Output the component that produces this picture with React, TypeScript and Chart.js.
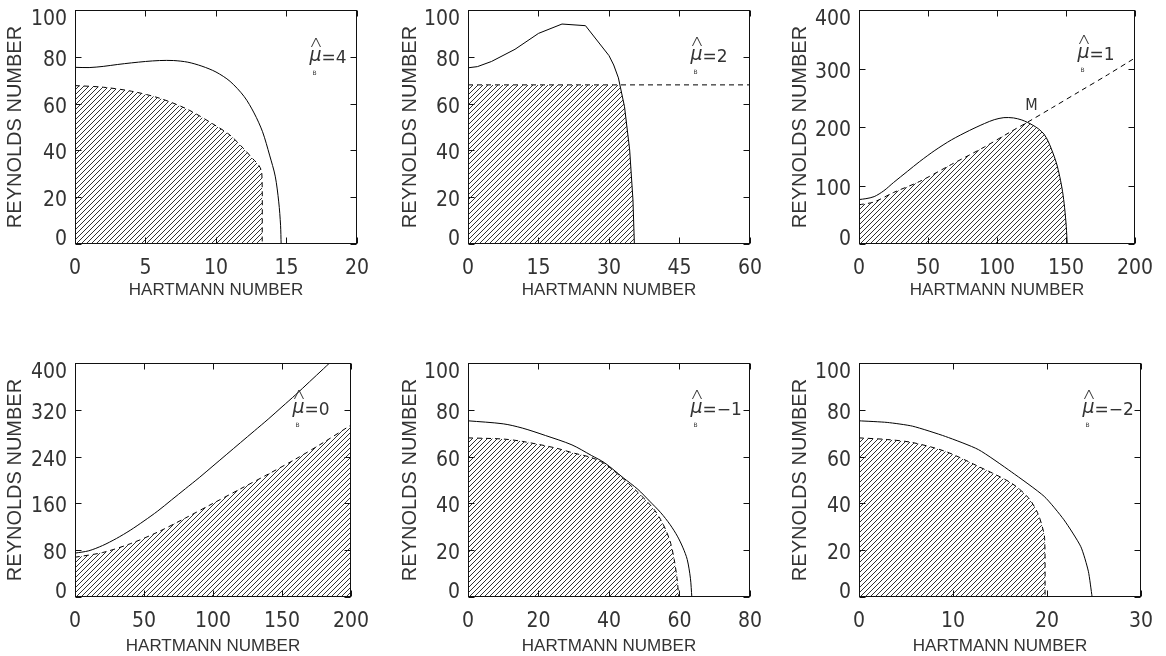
import React, { useEffect, useRef } from "react";
import { Chart, registerables } from "chart.js";

Chart.register(...registerables);

type Pt = [number, number];

// ---------- tick values ----------
const X_TICKS_MU4 = [0, 5, 10, 15, 20];
const X_TICKS_MU2 = [0, 15, 30, 45, 60];
const X_TICKS_MU1 = [0, 50, 100, 150, 200];
const X_TICKS_MU0 = [0, 50, 100, 150, 200];
const X_TICKS_MUM1 = [0, 20, 40, 60, 80];
const X_TICKS_MUM2 = [0, 10, 20, 30];
const Y_TICKS_100 = [0, 20, 40, 60, 80, 100];
const Y_TICKS_MU1 = [0, 100, 200, 300, 400];
const Y_TICKS_MU0 = [0, 80, 160, 240, 320, 400];

// ---------- texts ----------
const X_TITLE = "HARTMANN NUMBER";
const Y_TITLE = "REYNOLDS NUMBER";
const MU_LABELS = ["=4", "=2", "=1", "=0", "=\u22121", "=\u22122"];
const MARK_LABEL = "M";
const MARK_POS: Pt = [125, 236];

// ---------- series (Hartmann number, Reynolds number) ----------
const MU4_SOLID: Pt[] = [
  [0, 75.5], [1, 75.4], [2, 75.9], [3, 76.7], [4, 77.4], [5, 78], [6, 78.4], [7, 78.4],
  [8, 77.7], [9, 76], [10, 73.5], [11, 69.5], [12, 63], [12.7, 56], [13.3, 48], [13.8, 38],
  [14.2, 29], [14.45, 18], [14.58, 8], [14.62, 0],
];
const MU4_DASHED: Pt[] = [
  [0, 67.7], [2, 67], [4, 65.3], [6, 62.3], [8, 57.5], [10, 50.5], [11, 46.5], [12, 40.5],
  [12.6, 36.5], [13.05, 33.5], [13.25, 30.5], [13.28, 0],
];

const MU2_SOLID: Pt[] = [
  [0, 75.3], [2, 75.8], [5, 78], [10, 83.2], [15, 90], [20, 94], [25, 93.3], [30, 80.5],
  [31, 76.5], [32, 71], [33.3, 58.7], [34.4, 40.2], [35.1, 18.8], [35.4, 0],
];
const MU2_DASHED: Pt[] = [[0, 68], [60, 68]];
const MU2_HATCH: Pt[] = [
  [0, 68], [32.32, 68], [33.3, 58.7], [34.4, 40.2], [35.1, 18.8], [35.4, 0],
];

const MU1_SOLID: Pt[] = [
  [0, 76], [5, 77.5], [11, 81], [18, 91], [25, 105], [35, 124], [44, 141], [55, 160],
  [67, 178], [80, 194], [91, 206], [98, 212.5], [105, 216], [112, 215.5], [118, 212],
  [122, 208], [126, 203], [130, 197], [134, 188], [137, 176], [140, 159], [143, 139],
  [145.5, 115], [147.5, 90], [149, 62], [150.2, 30], [150.9, 0],
];
const MU1_DASHED: Pt[] = [
  [0, 67], [11, 72], [25, 88], [44, 107], [67, 136], [91, 166], [110, 192], [122, 208],
  [140, 233], [160, 261], [180, 289], [200, 318],
];
const MU1_HATCH: Pt[] = [
  [0, 67], [11, 72], [25, 88], [44, 107], [67, 136], [91, 166], [110, 192], [122, 208],
  [126, 203], [130, 197], [134, 188], [137, 176], [140, 159], [143, 139], [145.5, 115],
  [147.5, 90], [149, 62], [150.2, 30], [150.9, 0],
];

const MU0_SOLID: Pt[] = [
  [0, 75], [10, 79], [20, 88], [30, 100], [40, 114], [50, 130], [60, 147], [70, 166],
  [80, 185], [90, 204], [100, 224], [110, 244], [120, 264], [130, 284], [140, 304],
  [150, 325], [160, 346], [170, 368], [180, 390], [184.5, 400],
];
const MU0_DASHED: Pt[] = [
  [0, 68], [20, 76], [40, 91], [60, 111], [80, 135], [100, 160], [120, 185], [140, 210],
  [160, 236], [180, 264], [200, 294],
];

const MUM1_SOLID: Pt[] = [
  [0, 75.3], [10, 74], [15.4, 72.2], [22, 69], [29.5, 65], [35, 60.5], [38.8, 57.3],
  [44, 51], [48.2, 46], [51.5, 41], [54.7, 36], [57.3, 31], [59.4, 26], [61, 21],
  [62.2, 16], [63.1, 8], [63.5, 0],
];
const MUM1_DASHED: Pt[] = [
  [0, 68], [10, 67.5], [15.4, 66.5], [24.8, 63.7], [30, 61.5], [35, 59.6], [38.8, 56.9],
  [44, 50.6], [48, 45], [51, 40.5], [53, 37], [54.7, 33], [56.3, 28], [57.5, 23],
  [58.5, 16], [59.3, 8], [59.8, 0],
];

const MUM2_SOLID: Pt[] = [
  [0, 75.3], [3, 74.6], [5.7, 73], [9.2, 68.6], [12.7, 63], [16.2, 53.5], [19.7, 43],
  [21.8, 33], [23.6, 21.5], [24.4, 11], [24.8, 0],
];
const MUM2_DASHED: Pt[] = [
  [0, 68], [3, 67.3], [5.7, 66], [9.2, 62.2], [12.7, 55.8], [16.2, 48.7], [18, 42.5],
  [19, 36], [19.5, 30], [19.75, 25], [19.8, 0],
];

// ---------- styling ----------
const TICK_FONT = "'Liberation Sans Narrow', 'DejaVu Sans Condensed', 'Liberation Sans', sans-serif";
const TITLE_FONT = "'Liberation Sans', Arial, sans-serif";
const LABEL_FONT = "'DejaVu Sans', sans-serif";
const TEXT = "#333";
const AREA_W = 284;
const AREA_H = 234;
const PAD_L = 75;
const PAD_T = 10;
const PAD_R = 22;
const PAD_B = 58;
const CW = PAD_L + AREA_W + PAD_R;
const CH = PAD_T + AREA_H + PAD_B;

interface PanelCfg {
  left: number;
  top: number;
  xMin: number;
  xMax: number;
  yMax: number;
  xTicks: number[];
  yTicks: number[];
  solid: Pt[];
  dashed: Pt[];
  hatch: Pt[];
  solidTension: number;
  dashedTension: number;
  hatchTension: number;
  mu: string;
  muDx: number;
  muDy: number;
  yTitlePad: number;
  xTitlePad: number;
  mark?: boolean;
}

const PANELS: PanelCfg[] = [
  {
    left: 75, top: 10, xMin: 0, xMax: 20, yMax: 100, xTicks: X_TICKS_MU4, yTicks: Y_TICKS_100,
    solid: MU4_SOLID, dashed: MU4_DASHED, hatch: MU4_DASHED, solidTension: 0.3, dashedTension: 0.3,
    hatchTension: 0.3, mu: MU_LABELS[0], muDx: -46, muDy: 53, yTitlePad: 5, xTitlePad: 3.5,
  },
  {
    left: 468, top: 10, xMin: 0, xMax: 60, yMax: 100, xTicks: X_TICKS_MU2, yTicks: Y_TICKS_100,
    solid: MU2_SOLID, dashed: MU2_DASHED, hatch: MU2_HATCH, solidTension: 0, dashedTension: 0,
    hatchTension: 0, mu: MU_LABELS[1], muDx: -58, muDy: 52, yTitlePad: 7, xTitlePad: 3.5,
  },
  {
    left: 859, top: 10, xMin: 0, xMax: 200, yMax: 400, xTicks: X_TICKS_MU1, yTicks: Y_TICKS_MU1,
    solid: MU1_SOLID, dashed: MU1_DASHED, hatch: MU1_HATCH, solidTension: 0.3, dashedTension: 0.3,
    hatchTension: 0.3, mu: MU_LABELS[2], muDx: -56, muDy: 50, yTitlePad: 6, xTitlePad: 3.5, mark: true,
  },
  {
    left: 75, top: 363, xMin: 0, xMax: 200, yMax: 400, xTicks: X_TICKS_MU0, yTicks: Y_TICKS_MU0,
    solid: MU0_SOLID, dashed: MU0_DASHED, hatch: MU0_DASHED, solidTension: 0.3, dashedTension: 0.3,
    hatchTension: 0.3, mu: MU_LABELS[3], muDx: -57, muDy: 52, yTitlePad: 5, xTitlePad: 0,
  },
  {
    left: 468, top: 363, xMin: 0, xMax: 80, yMax: 100, xTicks: X_TICKS_MUM1, yTicks: Y_TICKS_100,
    solid: MUM1_SOLID, dashed: MUM1_DASHED, hatch: MUM1_DASHED, solidTension: 0.3, dashedTension: 0.3,
    hatchTension: 0.3, mu: MU_LABELS[4], muDx: -58, muDy: 52, yTitlePad: 7, xTitlePad: 0,
  },
  {
    left: 859, top: 363, xMin: 0, xMax: 30, yMax: 100, xTicks: X_TICKS_MUM2, yTicks: Y_TICKS_100,
    solid: MUM2_SOLID, dashed: MUM2_DASHED, hatch: MUM2_DASHED, solidTension: 0.2, dashedTension: 0.3,
    hatchTension: 0.3, mu: MU_LABELS[5], muDx: -57, muDy: 52, yTitlePad: 6, xTitlePad: 0,
  },
];

function makeHatch(): CanvasPattern | string {
  const c = document.createElement("canvas");
  const s = 5;
  c.width = s;
  c.height = s;
  const g = c.getContext("2d");
  if (!g) return "rgba(0,0,0,0.3)";
  g.strokeStyle = "#1a1a1a";
  g.lineWidth = 0.9;
  g.beginPath();
  g.moveTo(0, s);
  g.lineTo(s, 0);
  g.moveTo(-1, 1);
  g.lineTo(1, -1);
  g.moveTo(s - 1, s + 1);
  g.lineTo(s + 1, s - 1);
  g.stroke();
  return g.createPattern(c, "repeat") || "rgba(0,0,0,0.3)";
}

function framePlugin(cfg: PanelCfg) {
  return {
    id: "frameAndLabels",
    afterDraw(chart: any) {
      const { ctx, chartArea: a, scales } = chart;
      const xs = scales.x;
      const ys = scales.y;
      ctx.save();
      const L = Math.round(a.left) + 0.5;
      const R = Math.round(a.right) - 0.5;
      const T = Math.round(a.top) + 0.5;
      const B = Math.round(a.bottom) - 0.5;
      ctx.strokeStyle = "#111";
      ctx.lineWidth = 1;
      ctx.setLineDash([]);
      ctx.strokeRect(L, T, R - L, B - T);
      ctx.beginPath();
      const TL = 6;
      for (const v of cfg.xTicks) {
        const px = Math.round(xs.getPixelForValue(v)) + 0.5;
        ctx.moveTo(px, B);
        ctx.lineTo(px, B - TL);
        ctx.moveTo(px, T);
        ctx.lineTo(px, T + TL);
      }
      for (const v of cfg.yTicks) {
        const py = Math.round(ys.getPixelForValue(v)) + 0.5;
        ctx.moveTo(L, py);
        ctx.lineTo(L + TL, py);
        ctx.moveTo(R, py);
        ctx.lineTo(R - TL, py);
      }
      ctx.stroke();

      // y tick labels
      ctx.fillStyle = TEXT;
      ctx.font = `21px ${TICK_FONT}`;
      ctx.textAlign = "right";
      ctx.textBaseline = "alphabetic";
      for (const v of cfg.yTicks) {
        const py = ys.getPixelForValue(v);
        const c = Math.min(Math.max(py + 1.5, a.top + 7.5), a.bottom - 6.5);
        ctx.fillText(String(v), a.left - 8, c + 7.5);
      }

      // mu label: hat, mu, subscript B, "=value"
      const mx = a.right + cfg.muDx;
      const base = a.top + cfg.muDy;
      ctx.textAlign = "left";
      ctx.font = `italic 19px ${LABEL_FONT}`;
      ctx.fillText("\u03bc", mx - 1.5, base - 2);
      ctx.beginPath();
      ctx.lineWidth = 1;
      ctx.strokeStyle = TEXT;
      ctx.moveTo(mx + 0.5, base - 16);
      ctx.lineTo(mx + 5, base - 25);
      ctx.lineTo(mx + 9.5, base - 16);
      ctx.stroke();
      ctx.textAlign = "center";
      ctx.font = `6px ${LABEL_FONT}`;
      ctx.fillText("B", mx + 3.5, base + 12);
      ctx.textAlign = "left";
      ctx.font = `17px ${LABEL_FONT}`;
      ctx.fillText(cfg.mu, mx + 10.5, base);

      if (cfg.mark) {
        ctx.font = `16px ${TICK_FONT}`;
        ctx.textAlign = "center";
        ctx.textBaseline = "middle";
        ctx.fillText(MARK_LABEL, xs.getPixelForValue(MARK_POS[0]), ys.getPixelForValue(MARK_POS[1]));
      }
      ctx.restore();
    },
  };
}

function PanelChart({ cfg }: { cfg: PanelCfg }) {
  const ref = useRef<HTMLCanvasElement | null>(null);
  useEffect(() => {
    const canvas = ref.current;
    if (!canvas) return;
    const hatch = makeHatch();
    const toXY = (arr: Pt[]) => arr.map(([x, y]) => ({ x, y }));
    const chart = new Chart(canvas, {
      type: "line",
      data: {
        datasets: [
          {
            data: toXY(cfg.hatch),
            borderWidth: 0,
            borderColor: "rgba(0,0,0,0)",
            backgroundColor: hatch as any,
            fill: "origin",
            pointRadius: 0,
            tension: cfg.hatchTension,
          },
          {
            data: toXY(cfg.dashed),
            borderColor: "#000",
            borderWidth: 1,
            borderDash: [5, 4],
            fill: false,
            pointRadius: 0,
            tension: cfg.dashedTension,
          },
          {
            data: toXY(cfg.solid),
            borderColor: "#000",
            borderWidth: 1,
            fill: false,
            pointRadius: 0,
            tension: cfg.solidTension,
          },
        ],
      },
      options: {
        responsive: false,
        animation: false,
        events: [],
        layout: { padding: { left: 0, right: PAD_R, top: PAD_T, bottom: 0 } },
        plugins: { legend: { display: false }, tooltip: { enabled: false } },
        scales: {
          x: {
            type: "linear",
            min: cfg.xMin,
            max: cfg.xMax,
            afterBuildTicks: (s: any) => {
              s.ticks = cfg.xTicks.map((v) => ({ value: v }));
            },
            afterFit: (s: any) => {
              s.height = PAD_B;
            },
            grid: { display: false, drawTicks: false },
            border: { display: false },
            ticks: {
              autoSkip: false,
              maxRotation: 0,
              padding: 12,
              color: TEXT,
              font: { family: TICK_FONT, size: 21 },
            },
            title: {
              display: true,
              text: X_TITLE,
              color: TEXT,
              font: { family: TITLE_FONT, size: 17, lineHeight: 1 },
              padding: { top: 0, bottom: cfg.xTitlePad },
            },
          },
          y: {
            type: "linear",
            min: 0,
            max: cfg.yMax,
            afterBuildTicks: (s: any) => {
              s.ticks = cfg.yTicks.map((v) => ({ value: v }));
            },
            afterFit: (s: any) => {
              s.width = PAD_L;
            },
            grid: { display: false, drawTicks: false },
            border: { display: false },
            ticks: { display: false },
            title: {
              display: true,
              text: Y_TITLE,
              color: TEXT,
              font: { family: TITLE_FONT, size: 20, lineHeight: 1 },
              padding: { top: cfg.yTitlePad, bottom: 0 },
            },
          },
        },
      } as any,
      plugins: [framePlugin(cfg)],
    });
    return () => chart.destroy();
  }, [cfg]);
  return (
    <canvas
      ref={ref}
      width={CW}
      height={CH}
      style={{
        position: "absolute",
        left: cfg.left - PAD_L,
        top: cfg.top - PAD_T,
        width: CW,
        height: CH,
        display: "block",
      }}
    />
  );
}

export default function App() {
  return (
    <div
      style={{
        position: "fixed",
        left: 0,
        top: 0,
        width: 1166,
        height: 656,
        overflow: "hidden",
        background: "#fff",
      }}
    >
      {PANELS.map((p, i) => (
        <PanelChart key={i} cfg={p} />
      ))}
    </div>
  );
}
